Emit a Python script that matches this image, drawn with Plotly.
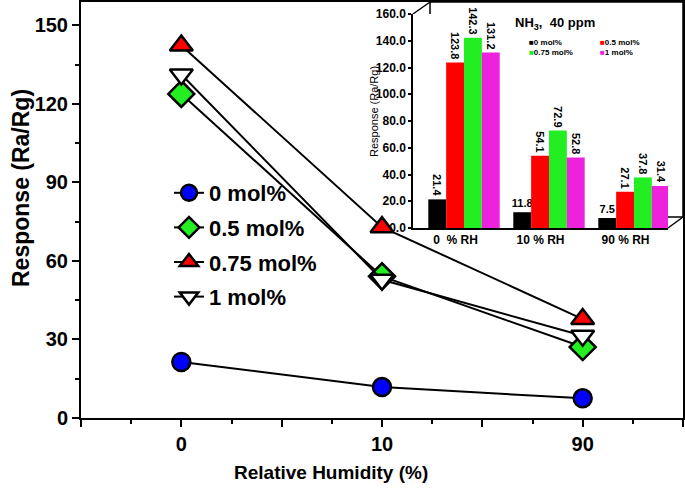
import plotly.graph_objects as go

# main plot data
humidity = ['0', '10', '90']
series_names = ['0 mol%', '0.5 mol%', '0.75 mol%', '1 mol%']
resp_0 = [21.4, 11.8, 7.5]
resp_05 = [123.8, 54.1, 27.1]
resp_075 = [142.3, 72.9, 37.8]
resp_1 = [131.2, 52.8, 31.4]

# inset bar chart data
inset_labels = ['0  % RH', '10 % RH', '90 % RH']

W, H = 685, 488
L, R, T, B = 81, 2, 2, 70


def px(x):
    return (x - L) / (W - L - R)


def py(y):
    return (H - B - y) / (H - T - B)


FONT = 'Liberation Sans, Arial, sans-serif'
xpos = list(range(len(humidity)))

fig = go.Figure()

symbols = ['circle', 'diamond', 'triangle-up', 'triangle-down']
fills = ['#0000FF', '#22EE22', '#FF0000', '#FFFFFF']
sizes = [18, 20, 20, 20]
for i, (name, vals) in enumerate(zip(series_names, [resp_0, resp_05, resp_075, resp_1])):
    fig.add_trace(go.Scatter(
        x=xpos, y=vals, name=name, mode='lines+markers',
        line=dict(color='black', width=2),
        marker=dict(symbol=symbols[i], size=sizes[i], color=fills[i],
                    line=dict(color='black', width=2.5)),
        legendgroup=name, cliponaxis=False,
    ))

# inset bars
bar_colors = ['#000000', '#FF0000', '#22EE22', '#EE22DD']
offsets = [-0.32, -0.11, 0.10, 0.31]
bar_series = [resp_0, resp_05, resp_075, resp_1]
for i, vals in enumerate(bar_series):
    if i == 0:
        # first label is vertical, the small ones are horizontal
        parts = [([v if j == 0 else None for j, v in enumerate(vals)], 90),
                 ([v if j > 0 else None for j, v in enumerate(vals)], 0)]
    else:
        parts = [(vals, 90)]
    for ys, ang in parts:
        fig.add_trace(go.Bar(
            x=xpos, y=ys, xaxis='x2', yaxis='y2', showlegend=False,
            marker=dict(color=bar_colors[i], line=dict(width=0)),
            width=0.21, offset=offsets[i],
            texttemplate='%{y:.1f}', textposition='outside', textangle=ang,
            constraintext='none', cliponaxis=False,
            textfont=dict(family=FONT, size=11, color='black', weight='bold'),
        ))

fig.update_layout(
    template='none',
    width=W, height=H,
    margin=dict(l=L, r=R, t=T, b=B, autoexpand=False),
    paper_bgcolor='white', plot_bgcolor='white',
    font=dict(family=FONT, color='black'),
    barmode='overlay',
    xaxis=dict(
        range=[-0.5, 2.5], showgrid=False, zeroline=False, automargin=False,
        showline=True, linecolor='black', linewidth=2, mirror=True,
        tickmode='array',
        tickvals=[-0.5, 0, 0.5, 1, 1.5, 2, 2.5],
        ticktext=['', humidity[0], '', humidity[1], '', humidity[2], ''],
        ticks='outside', ticklen=7, tickwidth=2, tickcolor='black',
        tickfont=dict(size=20, weight='bold'),
        minor=dict(tickvals=[-0.25, 0.25, 0.75, 1.25, 1.75, 2.25],
                   ticks='outside', ticklen=4, tickwidth=2, tickcolor='black'),
    ),
    yaxis=dict(
        range=[0, 158.9], showgrid=False, zeroline=False, automargin=False,
        showline=True, linecolor='black', linewidth=2, mirror=True,
        tickvals=[0, 30, 60, 90, 120, 150],
        ticks='outside', ticklen=7, tickwidth=2, tickcolor='black',
        tickfont=dict(size=20, weight='bold'),
        minor=dict(dtick=15, tick0=0, ticks='outside', ticklen=4,
                   tickwidth=2, tickcolor='black'),
    ),
    xaxis2=dict(
        domain=[px(413), px(668)], anchor='y2', range=[-0.5, 2.5],
        showgrid=False, zeroline=False, showline=True, linecolor='black',
        linewidth=1.5, tickmode='array', tickvals=xpos, ticktext=inset_labels,
        ticks='', tickfont=dict(size=12, weight='bold'), automargin=False,
    ),
    yaxis2=dict(
        domain=[py(228), py(14)], anchor='x2', range=[0, 160],
        showgrid=False, zeroline=False, showline=True, linecolor='black',
        linewidth=1.5, dtick=20, tickformat='.1f', ticks='outside',
        ticklen=3, tickwidth=1.5, tickcolor='black', automargin=False,
        tickfont=dict(size=12, weight='bold'),
    ),
    legend=dict(
        x=px(169), y=py(172), xanchor='left', yanchor='top',
        bgcolor='rgba(0,0,0,0)', tracegroupgap=3,
        font=dict(size=22, weight='bold'),
    ),
    showlegend=True,
)

# 3D frame of the inset
line = dict(color='black', width=1.5)
fig.add_shape(type='rect', xref='paper', yref='paper', x0=px(430), x1=px(683),
              y0=py(217), y1=py(2), line=line, layer='below')
for (xa, ya, xb, yb) in [(413, 14, 430, 2), (413, 228, 430, 217), (668, 228, 683, 217)]:
    fig.add_shape(type='line', xref='paper', yref='paper', x0=px(xa), y0=py(ya),
                  x1=px(xb), y1=py(yb), line=line, layer='below')

# titles
fig.add_annotation(text='Relative Humidity (%)', xref='paper', yref='paper',
                   x=px(331), y=py(472), xanchor='center', yanchor='middle',
                   showarrow=False, font=dict(size=19, weight='bold'))
fig.add_annotation(text='Response (Ra/Rg)', xref='paper', yref='paper',
                   x=px(21), y=py(188), xanchor='center', yanchor='middle',
                   textangle=-90, showarrow=False,
                   font=dict(size=23, weight='bold'))
fig.add_annotation(text='Response (Ra/Rg)', xref='paper', yref='paper',
                   x=px(374), y=py(112), xanchor='center', yanchor='middle',
                   textangle=-90, showarrow=False, font=dict(size=11))
fig.add_annotation(text='NH<sub>3</sub>,  40 ppm', xref='paper', yref='paper',
                   x=px(513), y=py(23), xanchor='left', yanchor='middle',
                   showarrow=False, font=dict(size=13, weight='bold'))

# inset legend, two columns
def swatch(i):
    return f"<span style='color:{bar_colors[i]}'>■</span>{series_names[i]}"


for col, (lx, idx) in enumerate([(527, (0, 2)), (598, (1, 3))]):
    fig.add_annotation(
        text='<br>'.join(swatch(i) for i in idx),
        xref='paper', yref='paper', x=px(lx), y=py(36), xanchor='left',
        yanchor='top', align='left', showarrow=False,
        font=dict(size=8, weight='bold'),
    )

fig.write_html("out.html", config={'displayModeBar': False},
               post_script="document.body.style.margin='0';")
